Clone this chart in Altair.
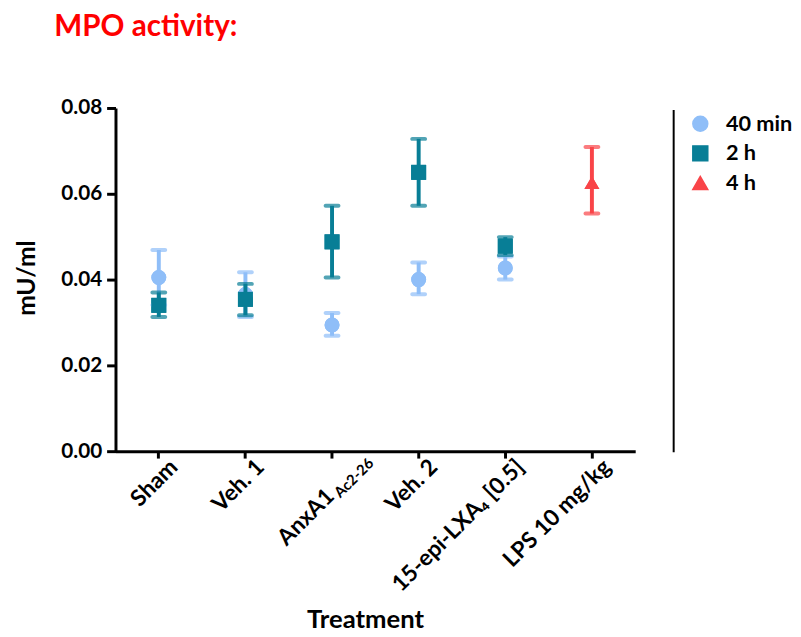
import altair as alt
import pandas as pd

categories = ["Sham", "Veh. 1", "AnxA1Ac2-26", "Veh. 2", "15-epi-LXA4 [0.5]", "LPS 10 mg/kg"]
label_main = ["Sham", "Veh. 1", "AnxA1", "Veh. 2", "15-epi-LXA\u2084 [0.5]", "LPS 10 mg/kg"]
label_sub = ["", "", "Ac2-26", "", "", ""]

times = ["40 min", "2 h", "4 h"]
colors = ["#8FBEF8", "#087E96", "#F94448"]
shapes = ["circle", "square", "triangle-up"]

# 40 min series
t40_cat = ["Sham", "Veh. 1", "AnxA1Ac2-26", "Veh. 2", "15-epi-LXA4 [0.5]"]
t40_mean = [0.0405, 0.0365, 0.0294, 0.0400, 0.0427]
t40_lo = [0.0341, 0.0313, 0.0269, 0.0366, 0.0400]
t40_hi = [0.0469, 0.0417, 0.0322, 0.0440, 0.0454]

# 2 h series
t2_cat = ["Sham", "Veh. 1", "AnxA1Ac2-26", "Veh. 2", "15-epi-LXA4 [0.5]"]
t2_mean = [0.0340, 0.0354, 0.0488, 0.0650, 0.0478]
t2_lo = [0.0313, 0.0317, 0.0405, 0.0572, 0.0457]
t2_hi = [0.0370, 0.0390, 0.0572, 0.0728, 0.0499]

# 4 h series
t4_cat = ["LPS 10 mg/kg"]
t4_mean = [0.0626]
t4_lo = [0.0554]
t4_hi = [0.0709]

rows = []
for t, cs, ms, ls, hs in [("40 min", t40_cat, t40_mean, t40_lo, t40_hi),
                          ("2 h", t2_cat, t2_mean, t2_lo, t2_hi),
                          ("4 h", t4_cat, t4_mean, t4_lo, t4_hi)]:
    for c, m, l, h in zip(cs, ms, ls, hs):
        rows.append({"treatment": c, "time": t, "mean": m, "lo": l, "hi": h})
df = pd.DataFrame(rows)

lab = pd.DataFrame({"treatment": categories, "main": label_main, "sub": label_sub})

W, H = 527, 348
FONT = "Lato"

xenc = alt.X("treatment:N", sort=categories,
             scale=alt.Scale(domain=categories, paddingInner=0, paddingOuter=0),
             axis=alt.Axis(labels=False, title="Treatment", titleFontSize=26,
                           titleFont=FONT, titleFontWeight="bold",
                           titleX=253, titleY=171, titleBaseline="middle",
                           tickSize=7, tickWidth=3, domainWidth=3, domainColor="black",
                           tickColor="black", titleColor="black"))
yaxis = alt.Axis(values=[0, 0.02, 0.04, 0.06, 0.08], format=".2f",
                 title="mU/ml", titleFontSize=25, titleFont=FONT,
                 titleFontWeight="bold", titleX=-90, titleY=172, titleBaseline="middle",
                 labelFont=FONT, labelFontSize=21, labelFontWeight="bold",
                 labelColor="black", labelPadding=5,
                 tickSize=9, tickWidth=3, domainWidth=3, domainColor="black",
                 tickColor="black", titleColor="black", grid=False)
yscale = alt.Scale(domain=[0, 0.08], nice=False)
yenc = alt.Y("mean:Q", scale=yscale, axis=yaxis)

fill_nl = alt.Fill("time:N", scale=alt.Scale(domain=times, range=colors), legend=None)
stroke_nl = alt.Stroke("time:N", scale=alt.Scale(domain=times, range=colors), legend=None)

leg = alt.Legend(title=None, orient="none", legendX=582, legendY=5,
                 labelFont=FONT, labelFontSize=22, labelFontWeight="bold",
                 labelColor="black", symbolSize=230, rowPadding=8, labelOffset=15)
color = alt.Color("time:N", scale=alt.Scale(domain=times, range=colors), legend=leg)
shape = alt.Shape("time:N", scale=alt.Scale(domain=times, range=shapes), legend=leg)

# bottom layer: all points, carries the legend (covered by the identical marks above)
legend_layer = alt.Chart(df).mark_point(filled=True, opacity=1, size=230).encode(
    x=xenc, y=yenc, color=color, shape=shape)

layers = [legend_layer]
for t, shp in zip(times, shapes):
    b = alt.Chart(df[df.time == t])
    layers.append(b.mark_rule(strokeWidth=4).encode(
        x=xenc, y=yenc, y2="hi:Q", stroke=stroke_nl))
    layers.append(b.mark_rule(strokeWidth=4).encode(
        x=xenc, y=alt.Y("lo:Q"), y2="mean:Q", stroke=stroke_nl))
    for fld in ["lo", "hi"]:
        layers.append(b.mark_tick(thickness=4, size=17, cornerRadius=2).encode(
            x=xenc, y=alt.Y(f"{fld}:Q"), fill=fill_nl))
    layers.append(b.mark_point(filled=True, opacity=1, size=230, shape=shp).encode(
        x=xenc, y=yenc, fill=fill_nl))

labbase = alt.Chart(lab)
LX, LY = 12, 10
lab_main = labbase.transform_filter("datum.sub == ''").mark_text(
    angle=315, align="right", baseline="middle", font=FONT, fontSize=23,
    fontWeight="bold", color="black", dx=LX, dy=LY).encode(
    x=alt.X("treatment:N", sort=categories), y=alt.value(H + 14), text="main:N")
lab_anx = labbase.transform_filter("datum.sub != ''").mark_text(
    angle=315, align="right", baseline="middle", font=FONT, fontSize=23,
    fontWeight="bold", color="black", dx=LX - 33, dy=LY + 9).encode(
    x=alt.X("treatment:N", sort=categories), y=alt.value(H + 14), text="main:N")
lab_sub = labbase.transform_filter("datum.sub != ''").mark_text(
    angle=315, align="right", baseline="middle", font=FONT, fontSize=15,
    fontWeight="bold", color="black", dx=LX + 19, dy=LY + 15).encode(
    x=alt.X("treatment:N", sort=categories), y=alt.value(H + 14), text="sub:N")

sep = alt.Chart(pd.DataFrame({"a": [0]})).mark_rule(color="black", strokeWidth=2).encode(
    x=alt.value(566), y=alt.value(2), y2=alt.value(H + 1))

chart = alt.layer(*layers, lab_main, lab_anx, lab_sub, sep).properties(
    width=W, height=H,
    background="white",
    title=alt.TitleParams("MPO activity:", color="#FF0000", font=FONT, fontSize=30,
                          fontWeight="bold", anchor="start", frame="group",
                          dx=-62, offset=56),
    autosize=alt.AutoSizeParams(type="none"),
    padding={"left": 109, "top": 97, "right": 160, "bottom": 182},
).configure_view(strokeWidth=0, stroke="transparent")

chart.save("out.html", embed_options={"renderer": "svg", "actions": False})
